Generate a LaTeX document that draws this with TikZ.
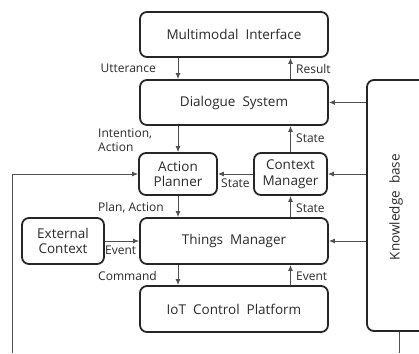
\documentclass[tikz,border=0pt]{standalone}
\usepackage{fontspec}
\setmainfont{Open Sans}
\usetikzlibrary{arrows.meta}
\usetikzlibrary{calc}

\definecolor{boxline}{HTML}{262626}
\definecolor{arrline}{HTML}{505050}
\definecolor{txt}{HTML}{2A2A2A}

\begin{document}
\begin{tikzpicture}[x=1pt,y=-1pt,>={Latex[length=6pt,width=5pt]},
  block/.style={draw=boxline,line width=1.8pt,rounded corners=7pt,
    inner sep=0pt,align=center,text=txt,font=\fontsize{13.5}{15.5}\selectfont},
  flow/.style={->,draw=arrline,line width=0.9pt},
  tag/.style={text=txt,inner sep=0pt,font=\fontsize{12}{14}\selectfont}]
  \useasboundingbox (0,0) rectangle (419,353);
  \clip (0,0) rectangle (419,353);
  % modules
  \node [block,minimum width=188pt,minimum height=45pt] (mmi) at (234,34.5) {Multimodal\ \ Interface};
  \node [block,minimum width=188pt,minimum height=45pt] (ds) at (234,102.5) {Dialogue\ \ System};
  \node [block,minimum width=78pt,minimum height=42pt] (ap) at (178,174) {Action\\Planner};
  \node [block,minimum width=73pt,minimum height=42pt] (cm) at (290.5,174) {Context\\Manager};
  \node [block,minimum width=188pt,minimum height=46pt] (tm) at (234,241) {Things\ \ Manager};
  \node [block,minimum width=188pt,minimum height=46pt] (iot) at (234,309) {IoT\ \ Control\ \ Platform};
  \node [block,minimum width=82pt,minimum height=46pt] (ec) at (63,241) {External\\Context};
  \node [block,minimum width=90pt,minimum height=251pt] (kb) at (412,205.5) {};
  \node [tag,rotate=90,font=\fontsize{13.5}{15.5}\selectfont] (kbtext) at (396,207) {Knowledge\ \ base};
  \coordinate (fb) at (12,353);
  \coordinate (kbend) at (399,353);
  % left column
  \draw [flow] (mmi.south -| ap) -- (ds.north -| ap);
  \draw [flow] (ds.south -| ap) -- (ap.north);
  \draw [flow] (ap.south) -- (tm.north -| ap);
  \draw [flow] (tm.south -| ap) -- (iot.north -| ap);
  % right column
  \draw [flow] (ds.north -| cm) -- (mmi.south -| cm);
  \draw [flow] (cm.north) -- (ds.south -| cm);
  \draw [flow] (tm.north -| cm) -- (cm.south);
  \draw [flow] (iot.north -| cm) -- (tm.south -| cm);
  % across
  \draw [flow] (cm.west) -- (ap.east);
  \draw [flow] (ec.east) -- (tm.west);
  \draw [flow] (kb.west |- ds) -- (ds.east);
  \draw [flow] (kb.west |- cm) -- (cm.east);
  \draw [flow] (kb.west |- tm) -- (tm.east);
  \draw [flow] (fb) |- (ap.west);
  \draw [draw=arrline,line width=0.9pt] (kbend |- kb.south) -- (kbend);
  % labels
  \node [tag,anchor=east] (l1) at (156,68.5) {Utterance};
  \node [tag,anchor=west] (l2) at (296,68.5) {Result};
  \node [tag,anchor=west,align=left] (l3) at (98,140) {Intention,\\Action};
  \node [tag,anchor=west] (l4) at (296,138.5) {State};
  \node [tag,anchor=west] (l5) at (221,183) {State};
  \node [tag,anchor=west] (l6) at (98,208) {Plan, Action};
  \node [tag,anchor=west] (l7) at (296,208) {State};
  \node [tag,anchor=west] (l8) at (105,250) {Event};
  \node [tag,anchor=west] (l9) at (98,276) {Command};
  \node [tag,anchor=west] (l10) at (296,276) {Event};
\end{tikzpicture}
\end{document}
